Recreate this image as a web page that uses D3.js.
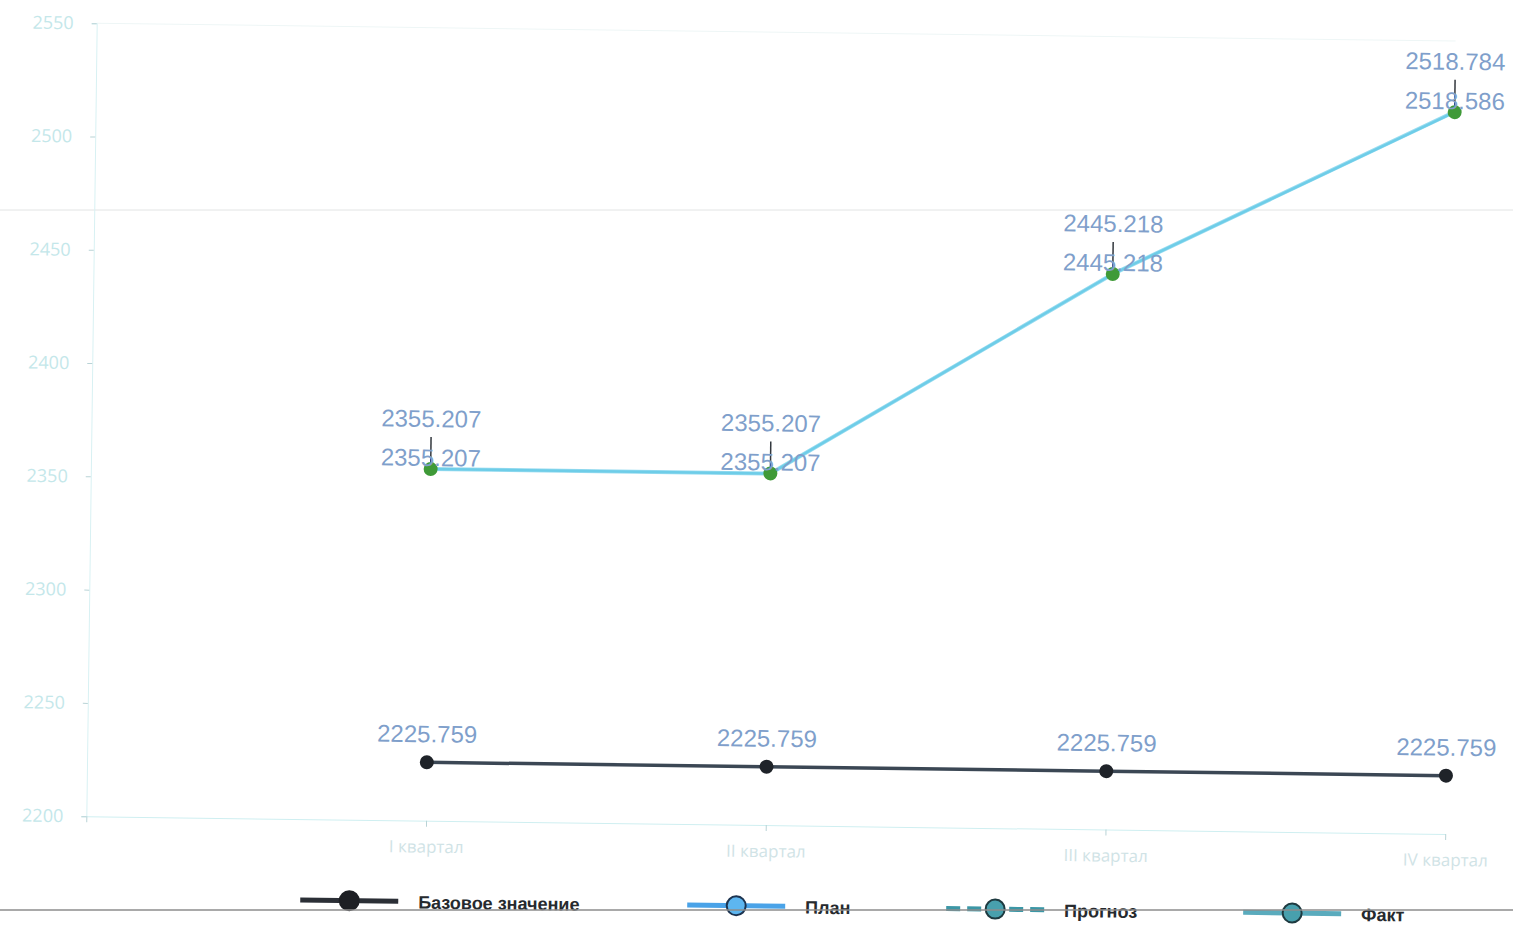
<!DOCTYPE html>
<html>
<head>
<meta charset="utf-8">
<script src="https://cdn.jsdelivr.net/npm/d3@7"></script>
<style>
  body { margin: 0; background: #fff; }
  svg { display: block; }
</style>
</head>
<body>
<div id="chart"></div>
<script>
const quarters = ["I квартал", "II квартал", "III квартал", "IV квартал"];
const baseValues = [2225.759, 2225.759, 2225.759, 2225.759];
const planValues = [2355.207, 2355.207, 2445.218, 2518.784];
const factValues = [2355.207, 2355.207, 2445.218, 2518.586];
const yTicks = [2200, 2250, 2300, 2350, 2400, 2450, 2500, 2550];
const legendNames = ["Базовое значение", "План", "Прогноз", "Факт"];

const W = 1513, H = 930;

const svg = d3.select("#chart")
              .append("svg")
              .attr("width", W)
              .attr("height", H);

svg.append("rect").attr("width", W).attr("height", H).attr("fill", "#fff");

// scan marks across the page
svg.append("line")
   .attr("x1", 0).attr("x2", W).attr("y1", 210).attr("y2", 210)
   .attr("stroke", "#e2e4e4").attr("stroke-width", 1);

// the scanned sheet is slightly tilted
const g = svg.append("g").attr("transform", "rotate(0.75)");

const x = d3.scaleLinear()
            .domain([0, quarters.length])
            .range([97, 1456]);

const y = d3.scaleLinear()
            .domain([2200, 2550])
            .range([815, 22]);

// top border line
g.append("line")
 .attr("x1", x(0)).attr("x2", x(4))
 .attr("y1", y(2550)).attr("y2", y(2550))
 .attr("stroke", "#eef6f6");

const yAxis = g.append("g")
               .attr("transform", `translate(${x(0)},0)`)
               .call(d3.axisLeft(y)
                       .tickValues(yTicks)
                       .tickFormat(d3.format("d"))
                       .tickSize(5)
                       .tickPadding(18));
yAxis.select(".domain").attr("stroke", "#d8f1f3");
yAxis.selectAll(".tick line").attr("stroke", "#b9d3d6");
yAxis.selectAll("text")
     .attr("fill", "#c4e7ea")
     .style("font-family", "'Open Sans', sans-serif")
     .style("font-size", "18px");

const xAxis = g.append("g")
               .attr("transform", `translate(0,${y(2200)})`)
               .call(d3.axisBottom(x)
                       .tickValues([0, 1, 2, 3, 4])
                       .tickFormat(i => i === 0 ? "" : quarters[i - 1])
                       .tickSize(6)
                       .tickSizeOuter(0)
                       .tickPadding(14));
xAxis.select(".domain").attr("stroke", "#cfeff1");
xAxis.selectAll(".tick line").attr("stroke", "#b9d3d6");
xAxis.selectAll("text")
     .attr("fill", "#d0e3e6")
     .style("font-family", "'Open Sans', sans-serif")
     .style("font-size", "17px");

const line = d3.line()
               .x((d, i) => x(i + 1))
               .y(d => y(d));

const labelFont = "'Liberation Sans', Arial, sans-serif";

// base line
g.append("path")
 .datum(baseValues)
 .attr("d", line)
 .attr("fill", "none")
 .attr("stroke", "#3b4754")
 .attr("stroke-width", 3.5);

g.selectAll(".base-dot")
 .data(baseValues)
 .enter()
 .append("circle")
 .attr("class", "base-dot")
 .attr("cx", (d, i) => x(i + 1))
 .attr("cy", d => y(d))
 .attr("r", 7)
 .attr("fill", "#1f2329");

g.selectAll(".base-label")
  .data(baseValues)
  .enter()
  .append("text")
  .attr("x", (d, i) => x(i + 1))
  .attr("y", d => y(d) - 20)
  .attr("text-anchor", "middle")
  .attr("fill", "#7f9fcb")
  .style("font-family", labelFont)
  .style("font-size", "24px")
  .text(d => d3.format(".3f")(d));

// plan + fact lines
g.append("path")
 .datum(planValues)
 .attr("d", line)
 .attr("fill", "none")
 .attr("stroke", "#9adcf0")
 .attr("stroke-width", 4);

g.append("path")
 .datum(factValues)
 .attr("d", line)
 .attr("fill", "none")
 .attr("stroke", "#6ecde8")
 .attr("stroke-width", 2.5);

// leader ticks
g.selectAll(".leader")
 .data(planValues)
 .enter()
 .append("line")
 .attr("x1", (d, i) => x(i + 1))
 .attr("x2", (d, i) => x(i + 1))
 .attr("y1", d => y(d))
 .attr("y2", d => y(d) - 32)
 .attr("stroke", "#33383e")
 .attr("stroke-width", 1.5);

g.selectAll(".fact-dot")
 .data(factValues)
 .enter()
 .append("circle")
 .attr("class", "fact-dot")
 .attr("cx", (d, i) => x(i + 1))
 .attr("cy", d => y(d))
 .attr("r", 7)
 .attr("fill", "#3f9a38");

g.selectAll(".plan-label")
 .data(planValues)
 .enter()
 .append("text")
 .attr("x", (d, i) => x(i + 1))
 .attr("y", d => y(d) - 42)
 .attr("text-anchor", "middle")
 .attr("fill", "#7f9fcb")
 .style("font-family", labelFont)
 .style("font-size", "24px")
 .text(d => d3.format(".3f")(d));

g.selectAll(".fact-label")
 .data(factValues)
 .enter()
 .append("text")
 .attr("x", (d, i) => x(i + 1))
 .attr("y", d => y(d) - 3)
 .attr("text-anchor", "middle")
 .attr("fill", "#7f9fcb")
 .style("font-family", labelFont)
 .style("font-size", "24px")
 .text(d => d3.format(".3f")(d));

// legend
const legendX = [361, 748, 1007, 1304];
const legendStyle = [
  {stroke: "#2b2f36", dash: null, fill: "#1d1f24", outline: "#1d1f24"},
  {stroke: "#4aa3e8", dash: null, fill: "#5db6f0", outline: "#1d3450"},
  {stroke: "#3c97a6", dash: "14,7", fill: "#48a0ad", outline: "#1e3a40"},
  {stroke: "#5aabbd", dash: null, fill: "#48a0ad", outline: "#1e3a40"}
];
const legendY = 896;

const legend = g.selectAll(".legend")
                .data(legendNames)
                .enter()
                .append("g")
                .attr("class", "legend")
                .attr("transform", (d, i) => `translate(${legendX[i]},${legendY})`);

legend.append("line")
      .attr("x1", -49).attr("x2", 49)
      .attr("y1", 0).attr("y2", 0)
      .attr("stroke", (d, i) => legendStyle[i].stroke)
      .attr("stroke-width", 5)
      .attr("stroke-dasharray", (d, i) => legendStyle[i].dash);

legend.append("circle")
      .attr("r", 9.5)
      .attr("fill", (d, i) => legendStyle[i].fill)
      .attr("stroke", (d, i) => legendStyle[i].outline)
      .attr("stroke-width", 2);

legend.append("text")
      .attr("x", 69)
      .attr("y", 7)
      .attr("fill", "#262a2e")
      .style("font-family", labelFont)
      .style("font-size", "18px")
      .style("font-weight", "bold")
      .text(d => d);

svg.append("line")
   .attr("x1", 0).attr("x2", W).attr("y1", 910).attr("y2", 910)
   .attr("stroke", "#8c8c8c").attr("stroke-width", 1.5);
</script>
</body>
</html>
